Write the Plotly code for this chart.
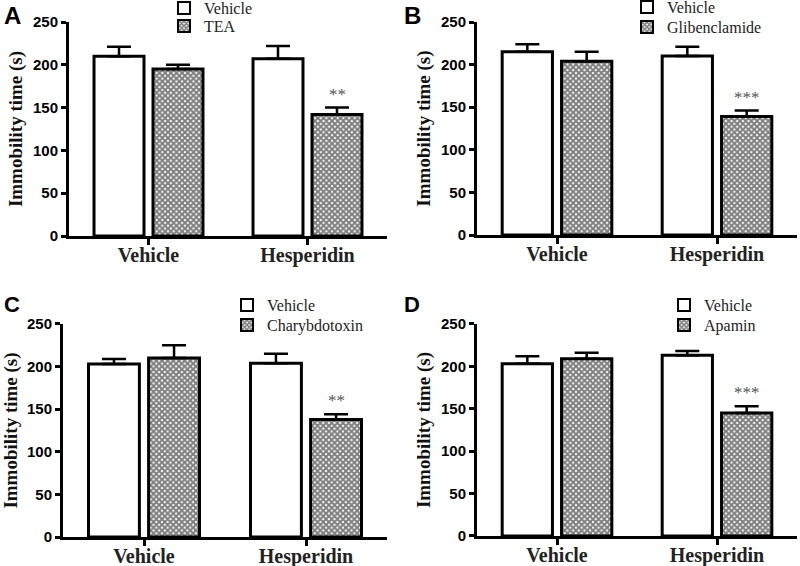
import plotly.graph_objects as go

categories = ["Vehicle", "Hesperidin"]
panel_letters = ["A", "B", "C", "D"]
treatments = ["TEA", "Glibenclamide", "Charybdotoxin", "Apamin"]
# per panel: [vehicle-group value, hesperidin-group value]
veh_vals = [[210, 207], [215, 210], [203, 204], [203, 213]]
veh_errs = [[11, 15], [9, 11], [6, 11], [9, 5]]
trt_vals = [[195, 142], [204, 139], [210, 138], [209, 145]]
trt_errs = [[5, 8], [11, 7], [15, 6], [7, 8]]
stars = [["", "**"], ["", "***"], ["", "**"], ["", "***"]]
yticks = [0, 50, 100, 150, 200, 250]

SERIF = "Liberation Serif"
SANS = "Liberation Sans"
W, H = 800, 566

# domains (paper fractions) for panels A, B, C, D
xdoms = [[0.08625, 0.48375], [0.59625, 0.99625], [0.07875, 0.48375], [0.59625, 0.99625]]
ydoms = [[0.583, 0.9611], [0.5848, 0.9611], [0.0512, 0.4276], [0.0530, 0.4276]]
# legend entry positions in pixels (left x, centre y) : (vehicle, treatment)
legend_px = [((164, 8), (164, 26)), ((627, 7), (627, 27)),
             ((227, 305), (227, 325)), ((664, 305), (664, 325))]
letter_pos = [(0.002, 1.0, 24), (0.503, 1.0, 24), (0.002, 0.487, 22), (0.503, 0.487, 22)]

fig = go.Figure()
pattern = dict(shape="x", fgcolor="black", bgcolor="white", size=4, solidity=0.75)

for i in range(4):
    ax = "" if i == 0 else str(i + 1)
    leg_v = "legend" if i == 0 else f"legend{2 * i + 1}"
    leg_t = f"legend{2 * i + 2}"
    fig.add_trace(go.Bar(
        x=categories, y=veh_vals[i], name="Vehicle",
        marker=dict(color="white", line=dict(color="black", width=3)),
        error_y=dict(type="data", array=veh_errs[i], arrayminus=[0, 0], symmetric=False,
                     color="black", thickness=2.5, width=12),
        xaxis="x" + ax, yaxis="y" + ax, legend=leg_v, showlegend=True,
    ))
    fig.add_trace(go.Bar(
        x=categories, y=trt_vals[i], name=treatments[i],
        marker=dict(color="white", line=dict(color="black", width=3), pattern=pattern),
        error_y=dict(type="data", array=trt_errs[i], arrayminus=[0, 0], symmetric=False,
                     color="black", thickness=2.5, width=12),
        xaxis="x" + ax, yaxis="y" + ax, legend=leg_t, showlegend=True,
    ))
    fig.layout["xaxis" + ax] = dict(
        domain=xdoms[i], anchor="y" + ax, type="category", range=[-0.5, 1.5],
        automargin=False, ticklabelstandoff=-7,
        showline=True, linecolor="black", linewidth=3, ticks="outside", ticklen=6,
        tickwidth=2.5, tickcolor="black", showgrid=False, zeroline=False,
        tickfont=dict(family=SERIF, size=20, color="#222", weight="bold"),
    )
    fig.layout["yaxis" + ax] = dict(
        domain=ydoms[i], anchor="x" + ax, range=[0, 250], tickvals=yticks,
        automargin=False,
        showline=True, linecolor="black", linewidth=3, ticks="outside", ticklen=5,
        tickwidth=2.5, tickcolor="black", showgrid=False, zeroline=False,
        tickfont=dict(family=SANS, size=15, color="black", weight="bold"),
        title=dict(text="Immobility time (s)", standoff=6,
                   font=dict(family=SERIF, size=19, color="#111", weight="bold")),
    )
    for leg, (px, py) in ((leg_v, legend_px[i][0]), (leg_t, legend_px[i][1])):
        fig.layout[leg] = dict(
            x=px / W, y=1 - py / H, xanchor="left", yanchor="middle",
            font=dict(family=SERIF, size=16, color="#222"), bgcolor="rgba(0,0,0,0)",
            itemsizing="constant",
        )
    lx, ly, lsize = letter_pos[i]
    fig.add_annotation(text=f"<b>{panel_letters[i]}</b>", x=lx, y=ly,
                       xref="paper", yref="paper", xanchor="left", yanchor="top",
                       showarrow=False, font=dict(family=SANS, size=lsize, color="black"))
    for j, s in enumerate(stars[i]):
        if s:
            fig.add_annotation(text=s, x=j + 0.19, y=trt_vals[i][j] + trt_errs[i][j],
                               xref="x" + ax, yref="y" + ax, yanchor="bottom", yshift=2,
                               showarrow=False, font=dict(family=SERIF, size=17, color="#555"))

fig.update_layout(
    width=W, height=H, margin=dict(l=0, r=0, t=0, b=0, autoexpand=False),
    paper_bgcolor="white", plot_bgcolor="white",
    barmode="group", bargap=0.258, bargroupgap=0.153,
)
fig.write_html("out.html", config={"displayModeBar": False},
               post_script="document.body.style.margin='0';")
